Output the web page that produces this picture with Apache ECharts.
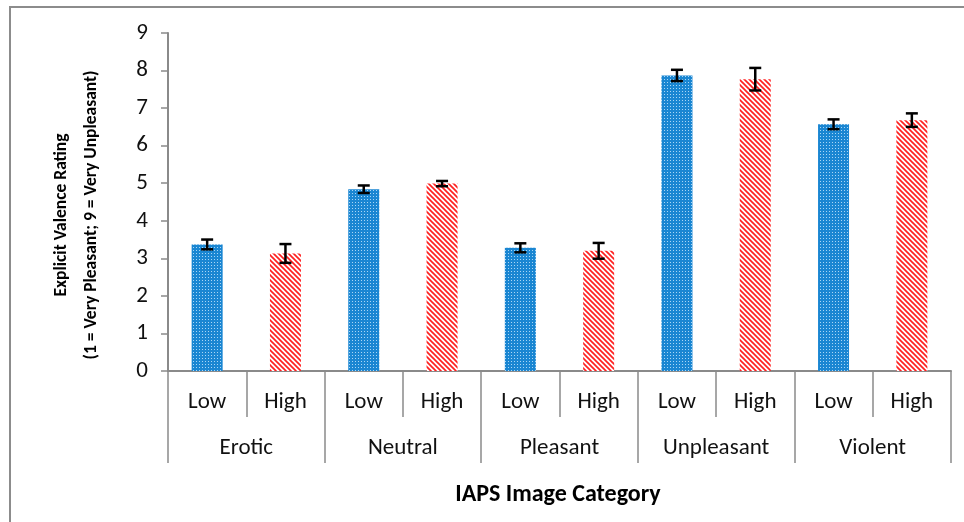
<!DOCTYPE html>
<html><head><meta charset="utf-8">
<script src="https://cdn.jsdelivr.net/npm/echarts@6/dist/echarts.min.js"></script>
<style>html,body{margin:0;padding:0;background:#fff}#c{width:964px;height:522px}</style>
</head><body><div id="c"></div>
<script>
var groups = ['Erotic', 'Neutral', 'Pleasant', 'Unpleasant', 'Violent'];
var levels = ['Low', 'High'];
var lowValues = [3.37, 4.84, 3.28, 7.87, 6.57];
var highValues = [3.13, 4.99, 3.20, 7.77, 6.68];
var lowErrors = [0.13, 0.10, 0.12, 0.15, 0.13];
var highErrors = [0.25, 0.07, 0.21, 0.30, 0.18];
var yTicks = [0, 1, 2, 3, 4, 5, 6, 7, 8, 9];

function makeBlue() {
  var c = document.createElement('canvas'); c.width = 3; c.height = 3;
  var g = c.getContext('2d');
  g.fillStyle = '#1a86d2'; g.fillRect(0, 0, 3, 3);
  g.fillStyle = '#a9d6f5'; g.fillRect(1, 1, 1, 1);
  return c;
}
function makeRed() {
  var s = 5;
  var c = document.createElement('canvas'); c.width = s; c.height = s;
  var g = c.getContext('2d');
  g.fillStyle = '#ffffff'; g.fillRect(0, 0, s, s);
  g.strokeStyle = '#ff2020'; g.lineWidth = 1.7;
  for (var k = -1; k <= 1; k++) {
    g.beginPath(); g.moveTo(k * s - 1, -1); g.lineTo(k * s + s + 1, s + 1); g.stroke();
  }
  return c;
}
var bluePat = { image: makeBlue(), repeat: 'repeat' };
var redPat = { image: makeRed(), repeat: 'repeat' };

var cats = [], barData = [], errData = [];
groups.forEach(function (gname, i) {
  cats.push(levels[0]); cats.push(levels[1]);
  barData.push({ value: lowValues[i], itemStyle: { color: bluePat } });
  barData.push({ value: highValues[i], itemStyle: { color: redPat } });
  errData.push([2 * i, lowValues[i] - lowErrors[i], lowValues[i] + lowErrors[i]]);
  errData.push([2 * i + 1, highValues[i] - highErrors[i], highValues[i] + highErrors[i]]);
});

var FONT = "Carlito, Lato, 'Open Sans', sans-serif";
var axisGray = '#8a8a8a';
var chart = echarts.init(document.getElementById('c'));
chart.setOption({
  animation: false,
  grid: { left: 168, right: 13, top: 33, bottom: 151, containLabel: false },
  graphic: [{
    type: 'rect', shape: { x: 10, y: 7, width: 1000, height: 600 },
    style: { fill: 'none', stroke: '#8c8c8c', lineWidth: 2 }, silent: true
  }, {
    type: 'text', x: 558, y: 495,
    style: { text: 'IAPS Image Category', font: "bold 24px " + FONT, fill: '#000',
      textAlign: 'center', textVerticalAlign: 'middle' }
  }, {
    type: 'text', x: 77, y: 215, rotation: Math.PI / 2,
    style: { text: 'Explicit Valence Rating\n(1 = Very Pleasant; 9 = Very Unpleasant)',
      font: "bold 17.5px " + FONT, fill: '#000', lineHeight: 30,
      textAlign: 'center', textVerticalAlign: 'middle' }
  }],
  xAxis: [{
    type: 'category', data: cats, position: 'bottom',
    axisLine: { lineStyle: { color: axisGray, width: 2 } },
    axisTick: { show: true, interval: 0, length: 46, lineStyle: { color: axisGray, width: 1.5 } },
    axisLabel: { interval: 0, margin: 20, fontSize: 23, color: '#111', fontFamily: FONT }
  }, {
    type: 'category', data: groups, position: 'bottom',
    axisLine: { show: false },
    axisTick: { show: true, interval: 0, length: 92, lineStyle: { color: axisGray, width: 1.5 } },
    axisLabel: { interval: 0, margin: 66, fontSize: 23, color: '#111', fontFamily: FONT }
  }],
  yAxis: {
    type: 'value', min: 0, max: 9, interval: 1,
    axisLine: { show: true, lineStyle: { color: axisGray, width: 2 } },
    axisTick: { show: true, length: 7, lineStyle: { color: axisGray, width: 1.5 } },
    splitLine: { show: false },
    axisLabel: { fontSize: 23, color: '#111', fontFamily: FONT, margin: 20,
      formatter: function (v) { return yTicks.indexOf(v) >= 0 ? String(v) : ''; } }
  },
  series: [{
    type: 'bar', xAxisIndex: 0, data: barData, barWidth: 31
  }, {
    type: 'custom', xAxisIndex: 0, data: errData, z: 10,
    renderItem: function (params, api) {
      var x = api.value(0);
      var lo = api.coord([x, api.value(1)]);
      var hi = api.coord([x, api.value(2)]);
      var hw = 6;
      var st = { stroke: '#000', lineWidth: 2.5 };
      return { type: 'group', children: [
        { type: 'line', shape: { x1: lo[0], y1: lo[1], x2: hi[0], y2: hi[1] }, style: st },
        { type: 'line', shape: { x1: lo[0] - hw, y1: lo[1], x2: lo[0] + hw, y2: lo[1] }, style: st },
        { type: 'line', shape: { x1: hi[0] - hw, y1: hi[1], x2: hi[0] + hw, y2: hi[1] }, style: st }
      ]};
    }
  }]
});
</script></body></html>
